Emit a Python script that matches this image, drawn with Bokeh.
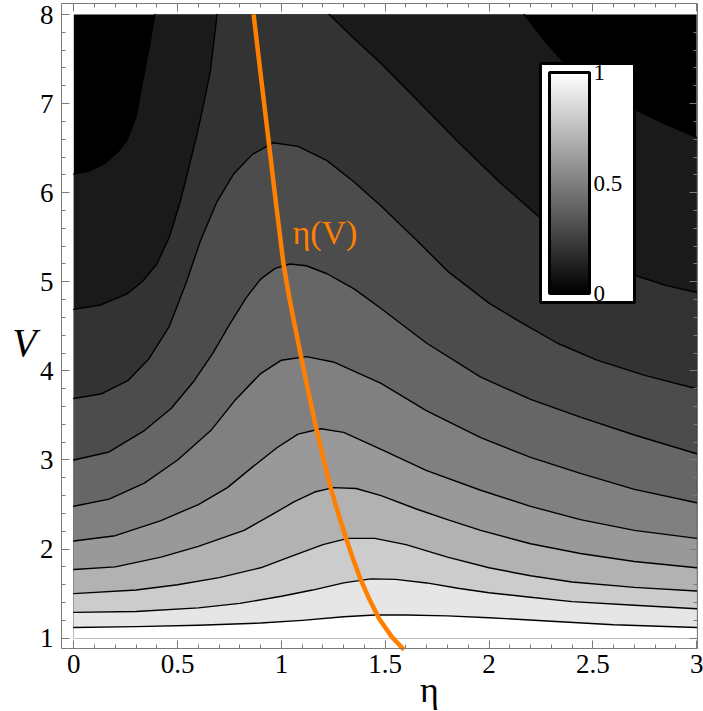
import numpy as np
from bokeh.plotting import figure
from bokeh.models import (Range1d, LinearAxis, SingleIntervalTicker, PrintfTickFormatter,
                          Label, ColorBar, LinearColorMapper, FixedTicker, ColumnDataSource)
from bokeh.palettes import Greys256
from bokeh.embed import file_html
from bokeh.resources import INLINE

# ---------------- data ----------------
eta_domain = [0.0, 3.0]
V_domain = [1.0, 8.0]

# contour lines, lowest first (eta, V)
c1_eta = [0, 0.3, 0.6, 0.9, 1.1, 1.3, 1.45, 1.6, 1.8, 2.0, 2.3, 2.6, 3.0]
c1_V = [1.12, 1.13, 1.145, 1.17, 1.20, 1.24, 1.26, 1.26, 1.25, 1.23, 1.19, 1.15, 1.12]
c2_eta = [0, 0.3, 0.6, 0.8, 1.0, 1.15, 1.3, 1.43, 1.55, 1.7, 1.85, 2.0, 2.2, 2.4, 2.7, 3.0]
c2_V = [1.29, 1.30, 1.34, 1.39, 1.47, 1.54, 1.62, 1.665, 1.66, 1.62, 1.56, 1.51, 1.46, 1.41, 1.37, 1.33]
c3_eta = [0, 0.3, 0.5, 0.7, 0.9, 1.05, 1.2, 1.32, 1.45, 1.6, 1.8, 2.0, 2.2, 2.4, 2.7, 3.0]
c3_V = [1.50, 1.54, 1.60, 1.68, 1.79, 1.92, 2.05, 2.12, 2.12, 2.05, 1.91, 1.79, 1.70, 1.63, 1.57, 1.53]
c4_eta = [0, 0.2, 0.42, 0.6, 0.82, 0.95, 1.06, 1.16, 1.25, 1.36, 1.48, 1.65, 1.8, 1.96, 2.2, 2.44, 2.7, 3.0]
c4_V = [1.77, 1.80, 1.91, 2.03, 2.21, 2.38, 2.53, 2.64, 2.69, 2.68, 2.60, 2.45, 2.33, 2.21, 2.06, 1.95, 1.86, 1.79]
c5_eta = [0, 0.2, 0.42, 0.6, 0.74, 0.86, 0.98, 1.08, 1.19, 1.3, 1.48, 1.7, 1.96, 2.2, 2.44, 2.7, 3.0]
c5_V = [2.09, 2.15, 2.32, 2.50, 2.69, 2.92, 3.14, 3.29, 3.35, 3.31, 3.12, 2.88, 2.66, 2.48, 2.33, 2.21, 2.12]
c6_eta = [0, 0.17, 0.34, 0.5, 0.66, 0.78, 0.90, 1.0, 1.12, 1.25, 1.48, 1.7, 1.96, 2.2, 2.44, 2.7, 3.0]
c6_V = [2.48, 2.56, 2.74, 3.0, 3.33, 3.68, 3.97, 4.12, 4.16, 4.10, 3.86, 3.55, 3.25, 3.03, 2.85, 2.67, 2.52]
c7_eta = [0, 0.17, 0.34, 0.47, 0.58, 0.67, 0.75, 0.83, 0.90, 0.97, 1.04, 1.12, 1.22, 1.35, 1.48,
          1.7, 1.96, 2.2, 2.44, 2.7, 3.0]
c7_V = [3.0, 3.09, 3.33, 3.58, 3.89, 4.20, 4.52, 4.82, 5.03, 5.15, 5.20, 5.18, 5.09, 4.92, 4.70,
        4.31, 3.93, 3.68, 3.48, 3.28, 3.07]
c8_eta = [0, 0.13, 0.26, 0.36, 0.46, 0.54, 0.61, 0.69, 0.77, 0.86, 0.96, 1.08, 1.22, 1.35, 1.48,
          1.65, 1.8, 2.0, 2.15, 2.33, 2.52, 2.75, 3.0]
c8_V = [3.69, 3.74, 3.89, 4.13, 4.50, 4.98, 5.46, 5.90, 6.21, 6.43, 6.56, 6.52, 6.36, 6.12, 5.85,
        5.47, 5.12, 4.76, 4.55, 4.31, 4.12, 3.95, 3.80]
c9a_eta = [0, 0.13, 0.257, 0.33, 0.40, 0.46, 0.514, 0.554, 0.594, 0.626, 0.658, 0.674, 0.69]
c9a_V = [4.69, 4.74, 4.865, 5.0, 5.20, 5.50, 5.91, 6.28, 6.66, 7.0, 7.37, 7.68, 8.0]
c9b_eta = [1.23, 1.35, 1.48, 1.67, 1.86, 2.05, 2.25, 2.45, 2.68, 2.85, 3.0]
c9b_V = [8.0, 7.73, 7.45, 7.0, 6.55, 6.12, 5.71, 5.38, 5.09, 4.96, 4.88]
c10a_eta = [0, 0.07, 0.145, 0.21, 0.257, 0.30, 0.34, 0.365, 0.39]
c10a_V = [6.21, 6.24, 6.32, 6.45, 6.59, 6.85, 7.35, 7.65, 8.0]
c10b_eta = [2.17, 2.27, 2.38, 2.52, 2.68, 2.84, 3.0]
c10b_V = [8.0, 7.70, 7.41, 7.17, 6.96, 6.78, 6.62]

# grey value of the band just below each contour (c1..c10); above c10 the value is 0
band_below = [1.0, 0.9, 0.8, 0.7, 0.6, 0.5, 0.4, 0.3, 0.2, 0.1]
band_top = 0.0

# orange curve eta(V)
etaV_eta = [0.866, 0.90, 0.94, 0.975, 1.01, 1.035, 1.06, 1.115, 1.17, 1.205, 1.237, 1.275, 1.31,
            1.345, 1.38, 1.425, 1.47, 1.53, 1.59]
etaV_V = [8.0, 7.33, 6.55, 5.86, 5.2, 4.86, 4.56, 3.93, 3.33, 2.99, 2.69, 2.39, 2.13,
          1.89, 1.667, 1.43, 1.22, 1.02, 0.87]

x_tick_step = 0.5
y_tick_step = 1
cbar_ticks = [0, 0.5, 1]

# ---------------- figure ----------------
FONT = "Liberation Serif"
AX = "#7a7a7a"
# plot box (frame of the graph), in data units
box_x = (-0.059, 3.004)
box_y = (0.884, 8.123)


def gray(v):
    return Greys256[int(round(v * 255))]


p = figure(width=703, height=711, x_range=Range1d(-0.353, 3.033), y_range=Range1d(0.177, 8.157),
           output_backend="svg", toolbar_location=None,
           x_axis_location=None, y_axis_location=None, min_border=0)
p.grid.visible = False
p.background_fill_color = "white"
p.border_fill_color = "white"
p.outline_line_color = None

# background (region above the highest contour)
p.quad(left=[eta_domain[0]], right=[eta_domain[1]], bottom=[V_domain[0]], top=[V_domain[1]],
       fill_color=gray(band_top), line_color=None)

bottom = V_domain[0]
right = eta_domain[1]
left = eta_domain[0]

full = [(c1_eta, c1_V), (c2_eta, c2_V), (c3_eta, c3_V), (c4_eta, c4_V), (c5_eta, c5_V),
        (c6_eta, c6_V), (c7_eta, c7_V), (c8_eta, c8_V)]
split = [((c9a_eta, c9a_V), (c9b_eta, c9b_V)), ((c10a_eta, c10a_V), (c10b_eta, c10b_V))]

poly_xs, poly_ys, poly_c = [], [], []
# painter's order: highest contour first
for k, ((ae, av), (be, bv)) in zip([9, 8], reversed(split)):
    poly_xs.append(list(ae) + list(be) + [right, left])
    poly_ys.append(list(av) + list(bv) + [bottom, bottom])
    poly_c.append(gray(band_below[k]))
for k in range(7, -1, -1):
    e, v = full[k]
    poly_xs.append(list(e) + [right, left])
    poly_ys.append(list(v) + [bottom, bottom])
    poly_c.append(gray(band_below[k]))

p.patches(xs="xs", ys="ys", fill_color="c", line_color=None,
          source=ColumnDataSource(dict(xs=poly_xs, ys=poly_ys, c=poly_c)))

line_xs = [list(e) for e, v in full] + [list(s[0]) for pair in split for s in pair]
line_ys = [list(v) for e, v in full] + [list(s[1]) for pair in split for s in pair]
p.multi_line(xs=line_xs, ys=line_ys, line_color="black", line_width=1.4,
             line_join="round", line_cap="round")

p.line(etaV_eta, etaV_V, line_color="#ff8000", line_width=4.5, line_join="round")

p.add_layout(Label(x=1.053, y=5.553, text="η(V)", text_font=FONT, text_font_size="34px",
                   text_color="#ff8000", text_align="left", text_baseline="alphabetic"))
p.add_layout(Label(x=-0.2375, y=4.319, text="V", text_font=FONT, text_font_size="40px",
                   text_font_style="italic", text_color="black",
                   text_align="center", text_baseline="alphabetic"))
p.add_layout(Label(x=1.713, y=0.42, text="η", text_font=FONT, text_font_size="36px",
                   text_color="black", text_align="center", text_baseline="alphabetic"))


def make_axis(interval, loc, bounds, labels, standoff):
    ax = LinearAxis(ticker=SingleIntervalTicker(interval=interval, num_minor_ticks=5),
                    fixed_location=loc, bounds=bounds)
    ax.axis_line_color = AX
    ax.major_tick_line_color = AX
    ax.minor_tick_line_color = AX
    ax.major_tick_in = 8
    ax.major_tick_out = 0
    ax.minor_tick_in = 4
    ax.minor_tick_out = 0
    ax.formatter = PrintfTickFormatter(format="%g")
    ax.major_label_text_font = FONT
    ax.major_label_text_font_size = "27px"
    ax.major_label_standoff = standoff
    ax.major_label_text_color = "black" if labels else None
    return ax


p.add_layout(make_axis(x_tick_step, box_y[0], box_x, True, 6), "below")
p.add_layout(make_axis(x_tick_step, box_y[1], box_x, False, 0), "above")
p.add_layout(make_axis(y_tick_step, box_x[0], box_y, True, 8), "left")
p.add_layout(make_axis(y_tick_step, box_x[1], box_y, False, 0), "right")

mapper = LinearColorMapper(palette=Greys256, low=0, high=1)
cb = ColorBar(color_mapper=mapper, location=(540, 409), width=40, height=221,
              ticker=FixedTicker(ticks=cbar_ticks), formatter=PrintfTickFormatter(format="%g"),
              major_tick_line_color=None, minor_tick_line_color=None,
              bar_line_color="black", bar_line_width=3,
              border_line_color="black", border_line_width=3,
              background_fill_color="white", background_fill_alpha=1.0,
              padding=9, label_standoff=4,
              major_label_text_font=FONT, major_label_text_font_size="23px",
              major_label_text_color="black")
p.add_layout(cb)

open("out.html", "w").write(file_html(p, INLINE))
